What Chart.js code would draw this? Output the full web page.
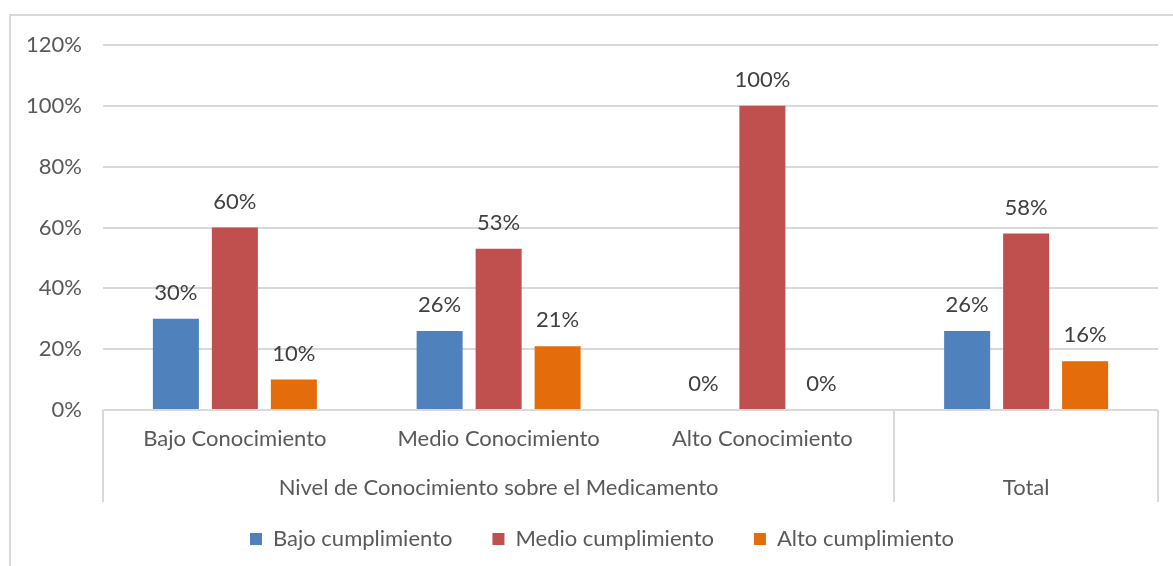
<!DOCTYPE html>
<html>
<head>
<meta charset="utf-8">
<script src="https://cdn.jsdelivr.net/npm/chart.js@4/dist/chart.umd.min.js"></script>
<style>
  html, body { margin: 0; padding: 0; background: #ffffff; }
  #wrap { width: 1173px; height: 566px; position: relative; }
</style>
</head>
<body>
<div id="wrap"><canvas id="chart" width="1173" height="566"></canvas></div>
<script>
// Categories (inner level) and their outer grouping
const categories = ['Bajo Conocimiento', 'Medio Conocimiento', 'Alto Conocimiento', 'Total'];
const innerLabels = ['Bajo Conocimiento', 'Medio Conocimiento', 'Alto Conocimiento', ''];
const groupLabels = ['Nivel de Conocimiento sobre el Medicamento', 'Total'];
const groupSpans = [3, 1];

// Series values (fractions)
const seriesNames = ['Bajo cumplimiento', 'Medio cumplimiento', 'Alto cumplimiento'];
const bajoCumplimiento = [0.30, 0.26, 0.00, 0.26];
const medioCumplimiento = [0.60, 0.53, 1.00, 0.58];
const altoCumplimiento = [0.10, 0.21, 0.00, 0.16];

// Y axis ticks
const yTicks = [0, 0.2, 0.4, 0.6, 0.8, 1.0, 1.2];

const FONT = 'Lato, "Open Sans", sans-serif';
const FS = 22;
const TEXT = '#595959';
const LABEL = '#404040';
const LINE = '#d9d9d9';
const colors = ['#4f81bd', '#c0504d', '#e46c0a'];

const pct = v => Math.round(v * 100) + '%';

const PLOT_LEFT = 103;
const PLOT_TOP = 45;
const PLOT_RIGHT = 1158;
const PLOT_BOTTOM = 410;
const PAD_BOTTOM = 6;
const LEGEND_SHIFT = 23;

// Outer frame, multi-level category axis lines and group labels
const frameAndGroups = {
  id: 'frameAndGroups',
  afterLayout(chart) {
    // nudge the legend row to the right
    if (chart.legend) {
      chart.legend.left += LEGEND_SHIFT;
      chart.legend.right += LEGEND_SHIFT;
    }
  },
  beforeDraw(chart) {
    const ctx = chart.ctx;
    ctx.save();
    ctx.strokeStyle = LINE;
    ctx.lineWidth = 2;
    ctx.beginPath();
    ctx.moveTo(10, chart.height);
    ctx.lineTo(10, 15);
    ctx.lineTo(chart.width, 15);
    ctx.stroke();
    ctx.restore();
  },
  afterDraw(chart) {
    const ctx = chart.ctx;
    const area = chart.chartArea;
    const n = categories.length;
    const step = (area.right - area.left) / n;
    const top = area.bottom;
    const bottom = top + 92;
    ctx.save();
    ctx.strokeStyle = LINE;
    ctx.lineWidth = 2;
    // category axis line
    ctx.beginPath();
    ctx.moveTo(area.left, top);
    ctx.lineTo(area.right, top);
    ctx.stroke();
    // group separators
    let idx = 0;
    const edges = [area.left];
    groupSpans.forEach(s => { idx += s; edges.push(area.left + step * idx); });
    ctx.beginPath();
    edges.forEach(e => {
      const xx = Math.round(e);
      ctx.moveTo(xx, top);
      ctx.lineTo(xx, bottom);
    });
    ctx.stroke();
    // group labels
    ctx.fillStyle = TEXT;
    ctx.font = FS + 'px ' + FONT;
    ctx.textAlign = 'center';
    ctx.textBaseline = 'middle';
    groupLabels.forEach((g, i) => {
      const cx = (edges[i] + edges[i + 1]) / 2;
      ctx.fillText(g, cx, top + 78);
    });
    ctx.restore();
  }
};

// Value labels above each bar
const valueLabels = {
  id: 'valueLabels',
  afterDatasetsDraw(chart) {
    const ctx = chart.ctx;
    ctx.save();
    ctx.fillStyle = LABEL;
    ctx.font = FS + 'px ' + FONT;
    ctx.textAlign = 'center';
    ctx.textBaseline = 'middle';
    chart.data.datasets.forEach((ds, di) => {
      const meta = chart.getDatasetMeta(di);
      meta.data.forEach((bar, i) => {
        ctx.fillText(pct(ds.data[i]), bar.x, bar.y - 26);
      });
    });
    ctx.restore();
  }
};

new Chart(document.getElementById('chart'), {
  type: 'bar',
  data: {
    labels: categories,
    datasets: [
      { label: seriesNames[0], data: bajoCumplimiento, backgroundColor: colors[0] },
      { label: seriesNames[1], data: medioCumplimiento, backgroundColor: colors[1] },
      { label: seriesNames[2], data: altoCumplimiento, backgroundColor: colors[2] }
    ]
  },
  options: {
    responsive: false,
    animation: false,
    events: [],
    categoryPercentage: 0.671,
    barPercentage: 0.78,
    layout: {
      padding: { top: PLOT_TOP, right: 1173 - PLOT_RIGHT, left: 0, bottom: PAD_BOTTOM }
    },
    plugins: {
      tooltip: { enabled: false },
      legend: {
        position: 'bottom',
        labels: {
          boxWidth: 12,
          boxHeight: 12,
          padding: 40,
          color: TEXT,
          font: { family: FONT, size: FS }
        }
      }
    },
    scales: {
      x: {
        grid: { display: false, drawTicks: false },
        border: { display: false },
        ticks: {
          color: TEXT,
          padding: 16,
          maxRotation: 0,
          font: { family: FONT, size: FS },
          callback: (v, i) => innerLabels[i]
        },
        afterFit(scale) {
          const legendH = scale.chart.legend ? scale.chart.legend.height : 0;
          scale.height = scale.chart.height - PAD_BOTTOM - legendH - PLOT_BOTTOM;
        }
      },
      y: {
        min: 0,
        max: 1.2,
        afterBuildTicks(scale) {
          scale.ticks = yTicks.map(v => ({ value: v }));
        },
        grid: { color: LINE, lineWidth: 2, drawTicks: false },
        border: { display: false },
        ticks: {
          color: TEXT,
          padding: 21,
          font: { family: FONT, size: FS },
          callback: v => pct(v)
        },
        afterFit(scale) {
          scale.width = PLOT_LEFT;
        }
      }
    }
  },
  plugins: [frameAndGroups, valueLabels]
});
</script>
</body>
</html>
